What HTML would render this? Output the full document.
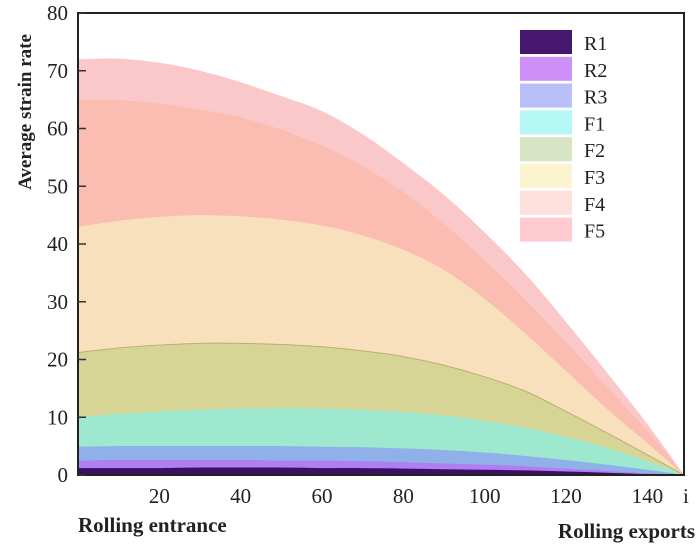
<!DOCTYPE html>
<html><head><meta charset="utf-8"><style>
body{margin:0;background:#fff;}
svg text{font-family:"Liberation Serif",serif;fill:#222;}
</style></head><body>
<svg width="700" height="550" viewBox="0 0 700 550">
<g id="areas"></g>
<rect x="78" y="13" width="606" height="462" fill="none" stroke="#222" stroke-width="2"/>
<g id="yticks"></g>
<g id="xticks"></g>
<text x="683" y="503" font-size="21">i</text>
<text transform="translate(31,112) rotate(-90)" text-anchor="middle" font-size="19" font-weight="bold">Average strain rate</text>
<text x="78" y="532" font-size="21" font-weight="bold">Rolling entrance</text>
<text x="695" y="538" text-anchor="end" font-size="21" font-weight="bold">Rolling exports</text>
<g id="legend"></g>
</svg>
<script>
const xs=[0,10,20,30,40,50,60,70,80,90,100,110,120,130,140,149];
const seriesNames=["R1","R2","R3","F1","F2","F3","F4","F5"];
const R1=[1.2,1.2,1.2,1.3,1.3,1.3,1.2,1.2,1.1,1,0.9,0.8,0.6,0.4,0.15,0];
const R2=[2.5,2.6,2.6,2.6,2.6,2.5,2.5,2.4,2.2,2,1.8,1.5,1.1,0.7,0.3,0];
const R3=[4.9,5,5,5,5,5,4.9,4.8,4.6,4.3,3.9,3.3,2.6,1.8,0.9,0];
const F1=[10,10.6,11,11.3,11.5,11.6,11.5,11.3,10.9,10.3,9.4,8.2,6.6,4.7,2.4,0];
const F2=[21.2,22,22.5,22.8,22.8,22.6,22.2,21.5,20.5,19,17,14.5,11,7.3,3.5,0];
const F3=[43,44,44.7,45,44.8,44.2,43.2,41.5,39,35.5,30.5,24.5,18,11.5,5.5,0];
const F4=[65,64.9,64.3,63.3,61.9,59.8,57,53.5,49,43.5,37.2,30.3,23,15.3,7.6,0];
const F5=[72,72.1,71.4,70,68,65.6,63,59,54,48.5,42,34.8,26.5,17.8,8.8,0];
const yTicks=[0,10,20,30,40,50,60,70,80];
const xTicks=[20,40,60,80,100,120,140];
const tops=[R1,R2,R3,F1,F2,F3,F4,F5];
const fills=["#3d0f63","#b07ef0","#8fb0e8","#9de8cf","#d6d596","#f7e0bb","#fbbcb1","#fbc8ca"];
const legendFills=["#46176e","#cc90f8","#b9c0f7","#b5f8f5","#d7e5c4","#fbf4cf","#fde0db","#fdcbd0"];
const NS="http://www.w3.org/2000/svg";
const X=v=>78+v*(606/149), Y=v=>475-v*(462/80);
function curve(pts){let d="";for(let i=0;i<pts.length-1;i++){const p0=pts[Math.max(0,i-1)],p1=pts[i],p2=pts[i+1],p3=pts[Math.min(pts.length-1,i+2)];
const c1=[p1[0]+(p2[0]-p0[0])/6,p1[1]+(p2[1]-p0[1])/6],c2=[p2[0]-(p3[0]-p1[0])/6,p2[1]-(p3[1]-p1[1])/6];
d+=` C${c1[0]},${c1[1]} ${c2[0]},${c2[1]} ${p2[0]},${p2[1]}`;}return d;}
const areas=document.getElementById('areas');
for(let s=tops.length-1;s>=0;s--){
 const pts=xs.map((x,i)=>[X(x),Y(tops[s][i])]);
 const p=document.createElementNS(NS,'path');
 p.setAttribute('d',`M${X(0)},${Y(0)} L${pts[0][0]},${pts[0][1]}`+curve(pts)+` L${X(0)},${Y(0)} Z`);
 p.setAttribute('fill',fills[s]);
 if(seriesNames[s]==="F2"){p.setAttribute('stroke','#b8b070');p.setAttribute('stroke-width','1');}
 
 
 areas.appendChild(p);
}
const yg=document.getElementById('yticks');
yTicks.forEach(v=>{
 const l=document.createElementNS(NS,'line');l.setAttribute('x1',78);l.setAttribute('x2',86);l.setAttribute('y1',Y(v));l.setAttribute('y2',Y(v));l.setAttribute('stroke','#333');l.setAttribute('stroke-width','1.5');
 
 
 yg.appendChild(l);
 const t=document.createElementNS(NS,'text');t.setAttribute('x',68);t.setAttribute('y',Y(v)+7);t.setAttribute('text-anchor','end');t.setAttribute('font-size','21');t.textContent=v;
 
 
 yg.appendChild(t);
});
const xg=document.getElementById('xticks');
xTicks.forEach(v=>{
 const t=document.createElementNS(NS,'text');t.setAttribute('x',X(v));t.setAttribute('y',503);t.setAttribute('text-anchor','middle');t.setAttribute('font-size','21');t.textContent=v;
 
 
 xg.appendChild(t);
});
const lg=document.getElementById('legend');
seriesNames.forEach((n,i)=>{
 const r=document.createElementNS(NS,'rect');r.setAttribute('x',520);r.setAttribute('y',30+i*26.8);r.setAttribute('width',52);r.setAttribute('height',24);r.setAttribute('fill',legendFills[i]);
 
 
 lg.appendChild(r);
 const t=document.createElementNS(NS,'text');t.setAttribute('x',584);t.setAttribute('y',50+i*26.8);t.setAttribute('font-size','20');t.textContent=n;
 
 
 lg.appendChild(t);
});
</script>
</body></html>
